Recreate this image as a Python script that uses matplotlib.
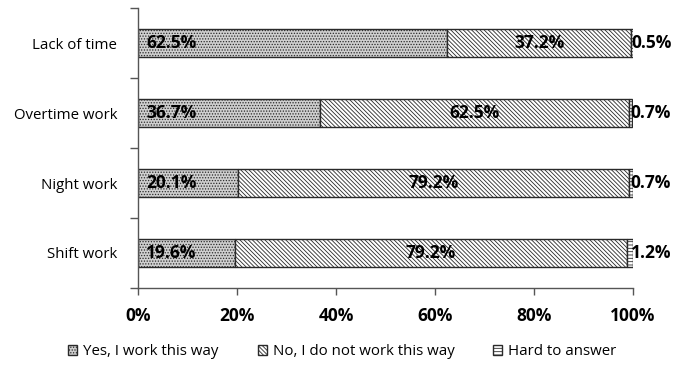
import matplotlib
matplotlib.use('Agg')
import matplotlib.pyplot as plt
import numpy as np

categories = ['Lack of time', 'Overtime work', 'Night work', 'Shift work']
yes_vals = [62.5, 36.7, 20.1, 19.6]
no_vals = [37.2, 62.5, 79.2, 79.2]
hard_vals = [0.5, 0.7, 0.7, 1.2]
series_names = ['Yes, I work this way', 'No, I do not work this way', 'Hard to answer']
xticks = [0, 20, 40, 60, 80, 100]

plt.rcParams['font.family'] = ['Open Sans', 'DejaVu Sans']
plt.rcParams['hatch.linewidth'] = 0.6

fig = plt.figure(figsize=(6.85, 3.65), dpi=100)
ax = fig.add_axes([0.2015, 0.211, 0.7225, 0.767])

ypos = np.arange(len(categories))[::-1]
yes = np.array(yes_vals)
no = np.array(no_vals)
hard = np.array(hard_vals)
h = 0.41

ax.barh(ypos, yes, height=h, color='#cfcfcf', edgecolor='#2a2a2a', hatch='......',
        linewidth=1.0, label=series_names[0])
ax.barh(ypos, no, left=yes, height=h, color='white', edgecolor='#2a2a2a', hatch='\\' * 8,
        linewidth=1.0, label=series_names[1])
ax.barh(ypos, hard, left=yes + no, height=h, color='white', edgecolor='#2a2a2a', hatch='-----',
        linewidth=1.0, label=series_names[2])

for y, a, b, c in zip(ypos, yes, no, hard):
    ax.text(1.6, y, '%.1f%%' % a, ha='left', va='center', fontsize=12.5, fontweight='bold')
    ax.text(a + b / 2, y, '%.1f%%' % b, ha='center', va='center', fontsize=12.5, fontweight='bold')
    ax.text(a + b + c - 0.5, y, '%.1f%%' % c, ha='left', va='center', fontsize=12.5, fontweight='bold')

ax.set_xlim(0, 100)
ax.set_ylim(-0.5, len(categories) - 0.5)
ax.set_xticks(xticks)
ax.set_xticklabels(['%d%%' % t for t in xticks], fontsize=12.5, fontweight='bold')
ax.tick_params(axis='x', length=5, width=1, color='#555555', pad=9)

ax.set_yticks(ypos)
ax.set_yticklabels(categories, fontsize=10.8)
ax.tick_params(axis='y', length=0, pad=15)
ax.set_yticks(np.arange(-0.5, len(categories)), minor=True)
ax.tick_params(axis='y', which='minor', length=6, width=1, color='#555555')

for s in ['top', 'right']:
    ax.spines[s].set_visible(False)
for s in ['left', 'bottom']:
    ax.spines[s].set_color('#555555')
    ax.spines[s].set_linewidth(1.0)

fig.legend(loc='center', bbox_to_anchor=(0.5, 0.036), ncol=3, frameon=False,
           fontsize=10.8, handlelength=0.6, handleheight=0.6, columnspacing=2.6,
           handletextpad=0.4)

plt.savefig('out.png', dpi=100)
